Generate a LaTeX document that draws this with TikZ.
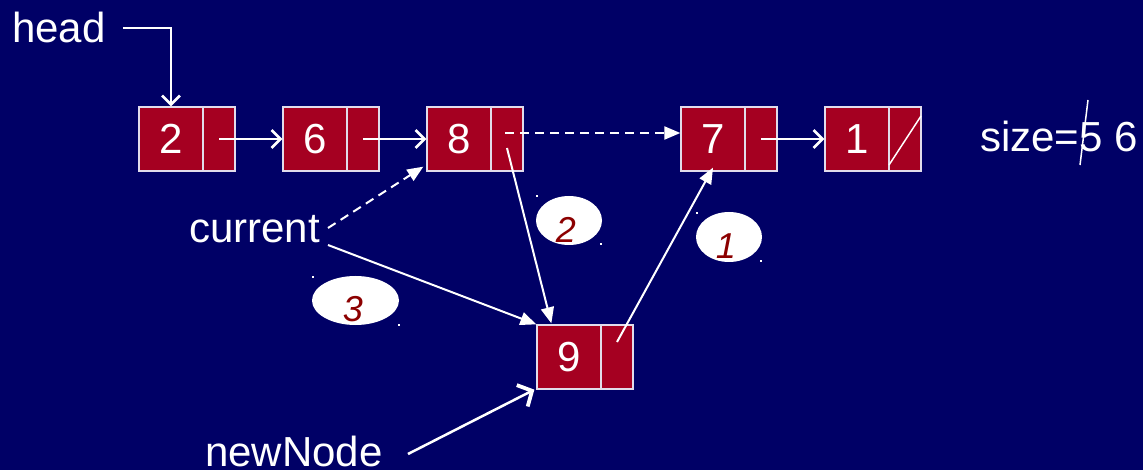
\documentclass[tikz,border=0pt]{standalone}
\usepackage{fontspec}
\setmainfont{Liberation Sans}
\usetikzlibrary{arrows.meta,shapes.geometric}
\definecolor{bg}{RGB}{0,0,102}
\definecolor{boxred}{RGB}{165,0,33}
\definecolor{boxedge}{RGB}{225,220,235}
\definecolor{lbl}{RGB}{140,0,0}
\begin{document}
\begin{tikzpicture}[x=1pt,y=-1pt,
  cell/.style={rectangle, draw=boxedge, fill=boxred, line width=1.3pt, inner sep=0pt,
    minimum height=64pt, text=white, font=\fontsize{42}{42}\selectfont},
  datacell/.style={cell, minimum width=64pt},
  ptrcell/.style={cell, minimum width=32pt},
  txt/.style={inner sep=0pt, text=white, font=\fontsize{42}{42}\selectfont},
  bubble/.style={ellipse, fill=white, draw=none, inner sep=0pt},
  blabel/.style={inner sep=0pt, text=lbl, font=\fontsize{36}{36}\selectfont\itshape},
  link/.style={draw=white, line width=2pt, -{Straight Barb[length=9pt,width=18pt,line width=2.6pt]}},
  flink/.style={draw=white, line width=2pt, -{Triangle[length=16pt,width=13pt]}},
  dlink/.style={flink, dash pattern=on 9pt off 6pt},
  bigopen/.style={draw=white, line width=2.5pt, -{Straight Barb[length=11pt,width=24pt,line width=3.8pt]}},
  dot/.style={fill=white}
]
\fill[bg] (0,0) rectangle (1143,470);
\useasboundingbox (0,0) rectangle (1143,470);

% list nodes
\node[datacell] (d2) at (171,139) {2};
\node[ptrcell]  (p2) at (219,139) {};
\node[datacell] (d6) at (315,139) {6};
\node[ptrcell]  (p6) at (363,139) {};
\node[datacell] (d8) at (459,139) {8};
\node[ptrcell]  (p8) at (507,139) {};
\node[datacell] (d7) at (713,139) {7};
\node[ptrcell]  (p7) at (761,139) {};
\node[datacell] (d1) at (857,139) {1};
\node[ptrcell]  (p1) at (905,139) {};
\node[datacell] (d9) at (569,357) {9};
\node[ptrcell]  (p9) at (617,357) {};

% null slash
\draw[white, line width=1.5pt] ([xshift=-16pt,yshift=-26pt]p1.center) -- ([xshift=16pt,yshift=23pt]p1.center);

% texts
\node[txt, anchor=base west] (head) at (12,43) {head};
\node[txt, anchor=base west] (current) at (189,243) {current};
\node[txt, anchor=base west] (newNode) at (205,466) {newNode};
\node[txt, anchor=base west] (size) at (980,152) {size=5 6};
\coordinate (s1) at (1088,100);
\coordinate (s2) at (1080,165);
\draw[white, line width=1.5pt] (s1) -- (s2);

% connectors
\draw[link] ([xshift=17pt]head.east) -| (d2.north);
\draw[link] (p2.center) -- (d6.west);
\draw[link] (p6.center) -- (d8.west);
\draw[link] (p7.center) -- (d1.west);
\draw[dlink] ([xshift=-2pt,yshift=6pt]p8.center) -- ([yshift=6pt]d7.west);
\coordinate (c1) at (328,228);
\coordinate (c2) at (328,245);
\draw[dlink] (c1) -- ([xshift=-3pt,yshift=5pt]d8.south west);
\draw[flink] (c2) -- (d9.north west);
\draw[flink] ([yshift=-9pt]p8.center) -- ([xshift=15pt,yshift=1pt]d9.north west);
\draw[flink] ([yshift=15pt]p9.center) -- ([yshift=4pt]d7.south);
\coordinate (n1) at (408,454);
\draw[bigopen] (n1) -- ([xshift=-2pt]d9.south west);

% bubbles
\node[bubble, minimum width=66pt, minimum height=49pt] (e2) at (569,220.5) {};
\node[blabel] (l2) at (566,230) {2};
\node[bubble, minimum width=66pt, minimum height=50pt] (e1) at (729,237) {};
\node[blabel] (l1) at (726,246) {1};
\node[bubble, minimum width=87pt, minimum height=49pt] (e3) at (355.5,300.5) {};
\node[blabel] (l3) at (353,309) {3};

% tiny corner dots
\fill[dot] (536,195) rectangle ++(2,2);
\fill[dot] (600,243) rectangle ++(2,2);
\fill[dot] (696,212) rectangle ++(2,2);
\fill[dot] (760,260) rectangle ++(2,2);
\fill[dot] (312,276) rectangle ++(2,2);
\fill[dot] (398,324) rectangle ++(2,2);
\end{tikzpicture}
\end{document}
